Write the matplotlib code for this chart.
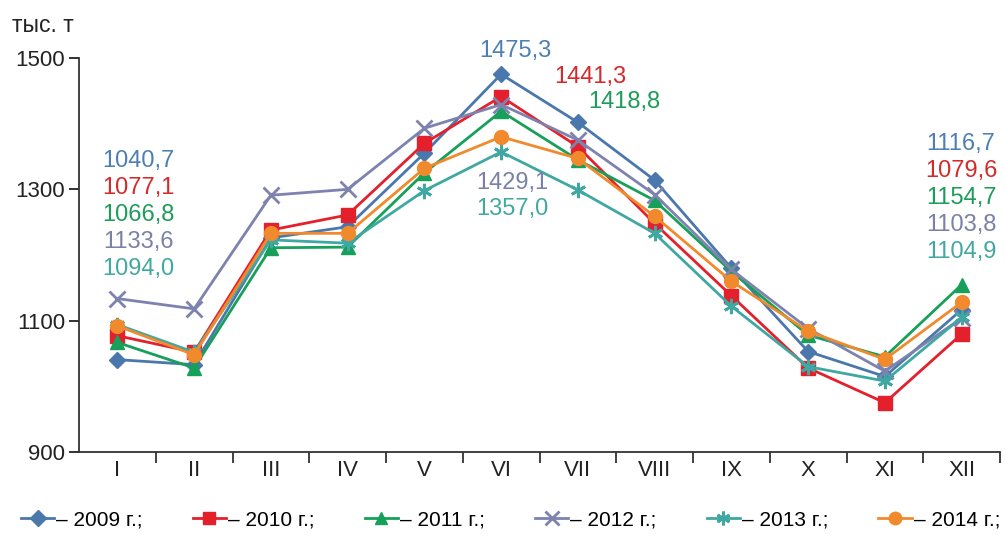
import numpy as np
import matplotlib
matplotlib.use('Agg')
import matplotlib.pyplot as plt

plt.rcParams['font.family'] = ['Liberation Sans', 'DejaVu Sans']

# месяцы
months = ['I', 'II', 'III', 'IV', 'V', 'VI', 'VII', 'VIII', 'IX', 'X', 'XI', 'XII']
years = ['2009', '2010', '2011', '2012', '2013', '2014']

# тыс. т, по месяцам
v2009 = [1040.7, 1033, 1226, 1243, 1355, 1475.3, 1402, 1314, 1180, 1053, 1015, 1116.7]
v2010 = [1077.1, 1052, 1238, 1261, 1370, 1441.3, 1365, 1248, 1138, 1028, 975, 1079.6]
v2011 = [1066.8, 1028, 1211, 1212, 1325, 1418.8, 1345, 1283, 1175, 1078, 1045, 1154.7]
v2012 = [1133.6, 1118, 1291, 1300, 1393, 1429.1, 1375, 1292, 1178, 1088, 1023, 1103.8]
v2013 = [1094.0, 1052, 1223, 1218, 1298, 1357.0, 1299, 1233, 1122, 1030, 1008, 1104.9]
v2014 = [1092, 1048, 1233, 1233, 1332, 1380, 1347, 1259, 1160, 1084, 1041, 1128]

colors = ['#4a78ad', '#e3202b', '#16a05a', '#7d82ae', '#3fa8a2', '#f08a2c']
markers = ['D', 's', '^', 'x', (6, 2, 0), 'o']
msizes = [8.5, 10, 10, 11, 11, 10]
series = [v2009, v2010, v2011, v2012, v2013, v2014]

fig = plt.figure(figsize=(10.05, 5.36), dpi=100)
ax = fig.add_axes([79/1005, 1-452/536, (1000-79)/1005, (452-58)/536])

x = np.arange(len(months))
for i in [3, 4, 0, 2, 1, 5]:
    mew = 2 if i in (3, 4) else 1
    ax.plot(x, series[i], color=colors[i], lw=2, marker=markers[i], ms=msizes[i],
            mew=mew, label='– ' + years[i] + ' г.;', zorder=3+i)

ax.set_xlim(-0.5, 11.5)
ax.set_ylim(900, 1500)
ax.set_yticks([900, 1100, 1300, 1500])
ax.set_xticks(x)
ax.set_xticklabels(months)
ax.set_xticks(np.arange(0.5, 12, 1), minor=True)
ax.tick_params(axis='x', which='major', length=0, pad=6, labelsize=16, colors='#222222')
ax.tick_params(axis='x', which='minor', length=8, width=1.3, direction='out', color='#333333')
ax.tick_params(axis='y', length=7, width=1.3, direction='out', labelsize=16, pad=3, colors='#222222')
for s in ['top', 'right']:
    ax.spines[s].set_visible(False)
for s in ['left', 'bottom']:
    ax.spines[s].set_linewidth(1.3)
    ax.spines[s].set_color('#333333')

fig.text(12/1005, 1-26/536, 'тыс. т', fontsize=16.5, color='#222222', va='center')

# подписи значений
lab_I = ['1040,7', '1077,1', '1066,8', '1133,6', '1094,0']
lab_VI = ['1475,3', '1441,3', '1418,8', '1429,1', '1357,0']
lab_XII = ['1116,7', '1079,6', '1154,7', '1103,8', '1104,9']
tcol = ['#4d7fb2', '#d42a2a', '#1d9c5a', '#7b80a8', '#43a8a0']
for k in range(5):
    fig.text(138/1005, 1-(161+27*k)/536, lab_I[k], color=tcol[k], fontsize=17,
             ha='center', va='center')
    fig.text(961/1005, 1-(144+27*k)/536, lab_XII[k], color=tcol[k], fontsize=17,
             ha='center', va='center')
vi_pos = [(515, 51), (590, 77), (624, 102), (512, 183), (512, 209)]
for k in range(5):
    fig.text(vi_pos[k][0]/1005, 1-vi_pos[k][1]/536, lab_VI[k], color=tcol[k],
             fontsize=17, ha='center', va='center')

h, l = ax.get_legend_handles_labels()
order = [l.index('– ' + y + ' г.;') for y in years]
fig.legend([h[o] for o in order], [l[o] for o in order], loc='center',
           bbox_to_anchor=(0.508, 1-520/536), ncol=6, frameon=False, fontsize=15,
           handlelength=1.6, handletextpad=0.1, columnspacing=2.4, markerscale=0.9)

fig.savefig('out.png', dpi=100)
